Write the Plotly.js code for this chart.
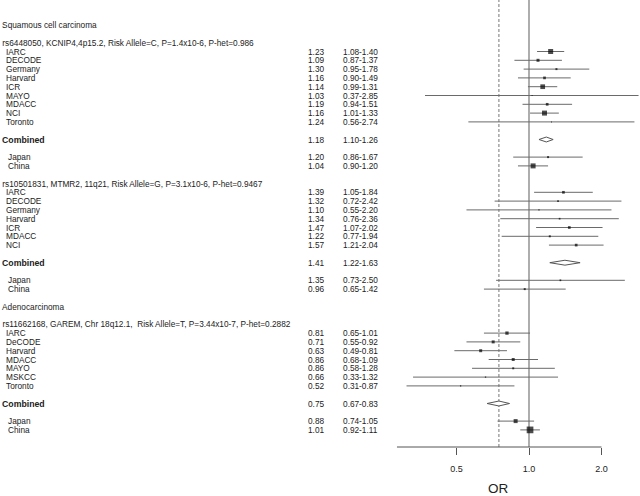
<!DOCTYPE html>
<html>
<head>
<meta charset="utf-8">
<script src="https://cdn.plot.ly/plotly-3.0.1.min.js"></script>
<style>html,body{margin:0;padding:0;background:#fff}#chart{width:640px;height:496px}</style>
</head>
<body>
<div id="chart"></div>
<script>
// ---------------- data ----------------
const histology = ["Squamous cell carcinoma", null, "Adenocarcinoma"];
const snpHeaders = [
  "rs6448050, KCNIP4,4p15.2, Risk Allele=C, P=1.4x10-6, P-het=0.986",
  "rs10501831, MTMR2, 11q21, Risk Allele=G, P=3.1x10-6, P-het=0.9467",
  "rs11662168, GAREM, Chr 18q12.1,  Risk Allele=T, P=3.44x10-7, P-het=0.2882"
];
// discovery studies
const studies1 = ["IARC","DECODE","Germany","Harvard","ICR","MAYO","MDACC","NCI","Toronto"];
const or1 = [1.23,1.09,1.30,1.16,1.14,1.03,1.19,1.16,1.24];
const lo1 = [1.08,0.87,0.95,0.90,0.99,0.37,0.94,1.01,0.56];
const hi1 = [1.40,1.37,1.78,1.49,1.31,2.85,1.51,1.33,2.74];
const w1  = [5,3,2,2.7,4.7,1,2.7,5,1];

const studies2 = ["IARC","DECODE","Germany","Harvard","ICR","MDACC","NCI"];
const or2 = [1.39,1.32,1.10,1.34,1.47,1.22,1.57];
const lo2 = [1.05,0.72,0.55,0.76,1.07,0.77,1.21];
const hi2 = [1.84,2.42,2.20,2.36,2.02,1.94,2.04];
const w2  = [2.7,1.7,1.3,1.7,2.7,2,2.7];

const studies3 = ["IARC","DeCODE","Harvard","MDACC","MAYO","MSKCC","Toronto"];
const or3 = [0.81,0.71,0.63,0.86,0.86,0.66,0.52];
const lo3 = [0.65,0.55,0.49,0.68,0.58,0.33,0.31];
const hi3 = [1.01,0.92,0.81,1.09,1.28,1.32,0.87];
const w3  = [3.3,3,3,3,2,1.3,1.3];

// combined estimates
const combOR = [1.18,1.41,0.75];
const combLo = [1.10,1.22,0.67];
const combHi = [1.26,1.63,0.83];

// replication (Japan, China)
const repNames = ["Japan","China"];
const repOR = [[1.20,1.04],[1.35,0.96],[0.88,1.01]];
const repLo = [[0.86,0.90],[0.73,0.65],[0.74,0.92]];
const repHi = [[1.67,1.20],[2.50,1.42],[1.05,1.11]];
const repW  = [[2,5],[1.7,2],[4,6.7]];

const tickVals = [0.5,1.0,2.0];
const tickText = ["0.5","1.0","2.0"];
const nullLine = 1.0;
const refLine = 0.75;
const axisFrom = 0.283, axisTo = 2.0;

// ---------------- build ----------------
const sections = [
  {hist: histology[0], head: snpHeaders[0], s: studies1, or: or1, lo: lo1, hi: hi1, w: w1},
  {hist: histology[1], head: snpHeaders[1], s: studies2, or: or2, lo: lo2, hi: hi2, w: w2},
  {hist: histology[2], head: snpHeaders[2], s: studies3, or: or3, lo: lo3, hi: hi3, w: w3}
];

const FONT = "Liberation Sans, Arial, sans-serif";
const FS = 9;
const NARROW = 0.92;
const TXT = "#222";
const W = 640;
const ann = [];
function txt(px, row, text, opts) {
  ann.push(Object.assign({
    xref: "paper", yref: "y", x: px / W, y: row, text: text, showarrow: false,
    xanchor: "left", yanchor: "middle", borderpad: 0,
    font: {family: FONT, size: FS, color: TXT}
  }, opts || {}));
}
const fmt = v => v.toFixed(2);

const ciX = [], ciY = [];
const sqX = [], sqY = [], sqS = [];
const diamonds = [];

let row = 3;
sections.forEach((sec, k) => {
  if (sec.hist) {
    if (k > 0) row += 2;
    txt(1, row, sec.hist);
    row += 2;
  } else {
    row += 2;
  }
  txt(1, row, sec.head);
  row += 1;
  sec.s.forEach((name, i) => {
    txt(5, row, name);
    txt(307, row, fmt(sec.or[i]));
    txt(342, row, fmt(sec.lo[i]) + "-" + fmt(sec.hi[i]));
    ciX.push(sec.lo[i], sec.hi[i], null); ciY.push(row, row, null);
    sqX.push(sec.or[i]); sqY.push(row); sqS.push(sec.w[i]);
    row += 1;
  });
  row += 1;
  txt(1, row, "<b>Combined</b>", {font: {family: FONT, size: 9.5, color: TXT}});
  txt(307, row, fmt(combOR[k]));
  txt(342, row, fmt(combLo[k]) + "-" + fmt(combHi[k]));
  diamonds.push({x: [combLo[k], combOR[k], combHi[k], combOR[k], combLo[k]],
                 y: [row, row - 0.28, row, row + 0.28, row]});
  row += 2;
  repNames.forEach((name, i) => {
    txt(6.5, row, name);
    txt(307, row, fmt(repOR[k][i]));
    txt(342, row, fmt(repLo[k][i]) + "-" + fmt(repHi[k][i]));
    ciX.push(repLo[k][i], repHi[k][i], null); ciY.push(row, row, null);
    sqX.push(repOR[k][i]); sqY.push(row); sqS.push(repW[k][i]);
    row += 1;
  });
  row -= 1;
});

const traces = [];
traces.push({type: "scatter", mode: "lines", x: ciX, y: ciY, hoverinfo: "skip",
  line: {color: "#6a6a6a", width: 1}, showlegend: false});
diamonds.forEach(d => traces.push({type: "scatter", mode: "lines", x: d.x, y: d.y,
  fill: "toself", fillcolor: "#ffffff", line: {color: "#555", width: 1}, showlegend: false, hoverinfo: "skip"}));
traces.push({type: "scatter", mode: "markers", x: sqX, y: sqY, showlegend: false,
  marker: {symbol: "square", size: sqS, color: "#000", line: {width: 0}}, cliponaxis: false});

// pixel geometry: 1.0 at x=529px, 72.5 px per doubling
const pxPerDec = 72.5 / Math.log10(2);
const xr0 = -529 / pxPerDec, xr1 = (640 - 529) / pxPerDec;
const plotH = 447;
const rowTop = (0 + 1.3) / 8.8, rowBot = (plotH + 1.3) / 8.8;

ann.push({xref: "paper", yref: "paper", x: 498 / W, y: -41 / plotH, text: "OR", showarrow: false,
  xanchor: "center", yanchor: "middle", borderpad: 0, font: {family: FONT, size: 13.5, color: TXT}});

const layout = {
  width: 640, height: 496,
  margin: {l: 0, r: 0, t: 0, b: 496 - plotH, pad: 0},
  paper_bgcolor: "#fff", plot_bgcolor: "#fff",
  showlegend: false,
  xaxis: {type: "log", range: [xr0, xr1], showgrid: false, zeroline: false, showline: false,
    tickvals: tickVals, ticktext: tickText, ticks: "outside", ticklen: 7, tickwidth: 1, tickcolor: "#555",
    tickfont: {family: FONT, size: 9, color: TXT}, ticklabelstandoff: 6, fixedrange: true},
  yaxis: {range: [rowBot, rowTop], visible: false, fixedrange: true},
  annotations: ann,
  shapes: [
    {type: "line", xref: "x", yref: "paper", x0: nullLine, x1: nullLine, y0: 0, y1: 1,
      line: {color: "#777", width: 1.2}, layer: "below"},
    {type: "line", xref: "x", yref: "paper", x0: refLine, x1: refLine, y0: 0, y1: 1,
      line: {color: "#777", width: 1, dash: "3px,2px"}, layer: "below"},
    {type: "line", xref: "x", yref: "paper", x0: axisFrom, x1: axisTo, y0: 0, y1: 0,
      line: {color: "#555", width: 1}}
  ]
};

Plotly.newPlot("chart", traces, layout, {displayModeBar: false, staticPlot: true}).then(() => {
  // emulate the condensed face of the original figure's text
  document.querySelectorAll("#chart .annotation-text").forEach(t => {
    if (t.textContent === "OR") return;
    t.style.transformBox = "fill-box";
    t.style.transformOrigin = "0 50%";
    t.style.transform = "scaleX(" + NARROW + ")";
  });
});
</script>
</body>
</html>
